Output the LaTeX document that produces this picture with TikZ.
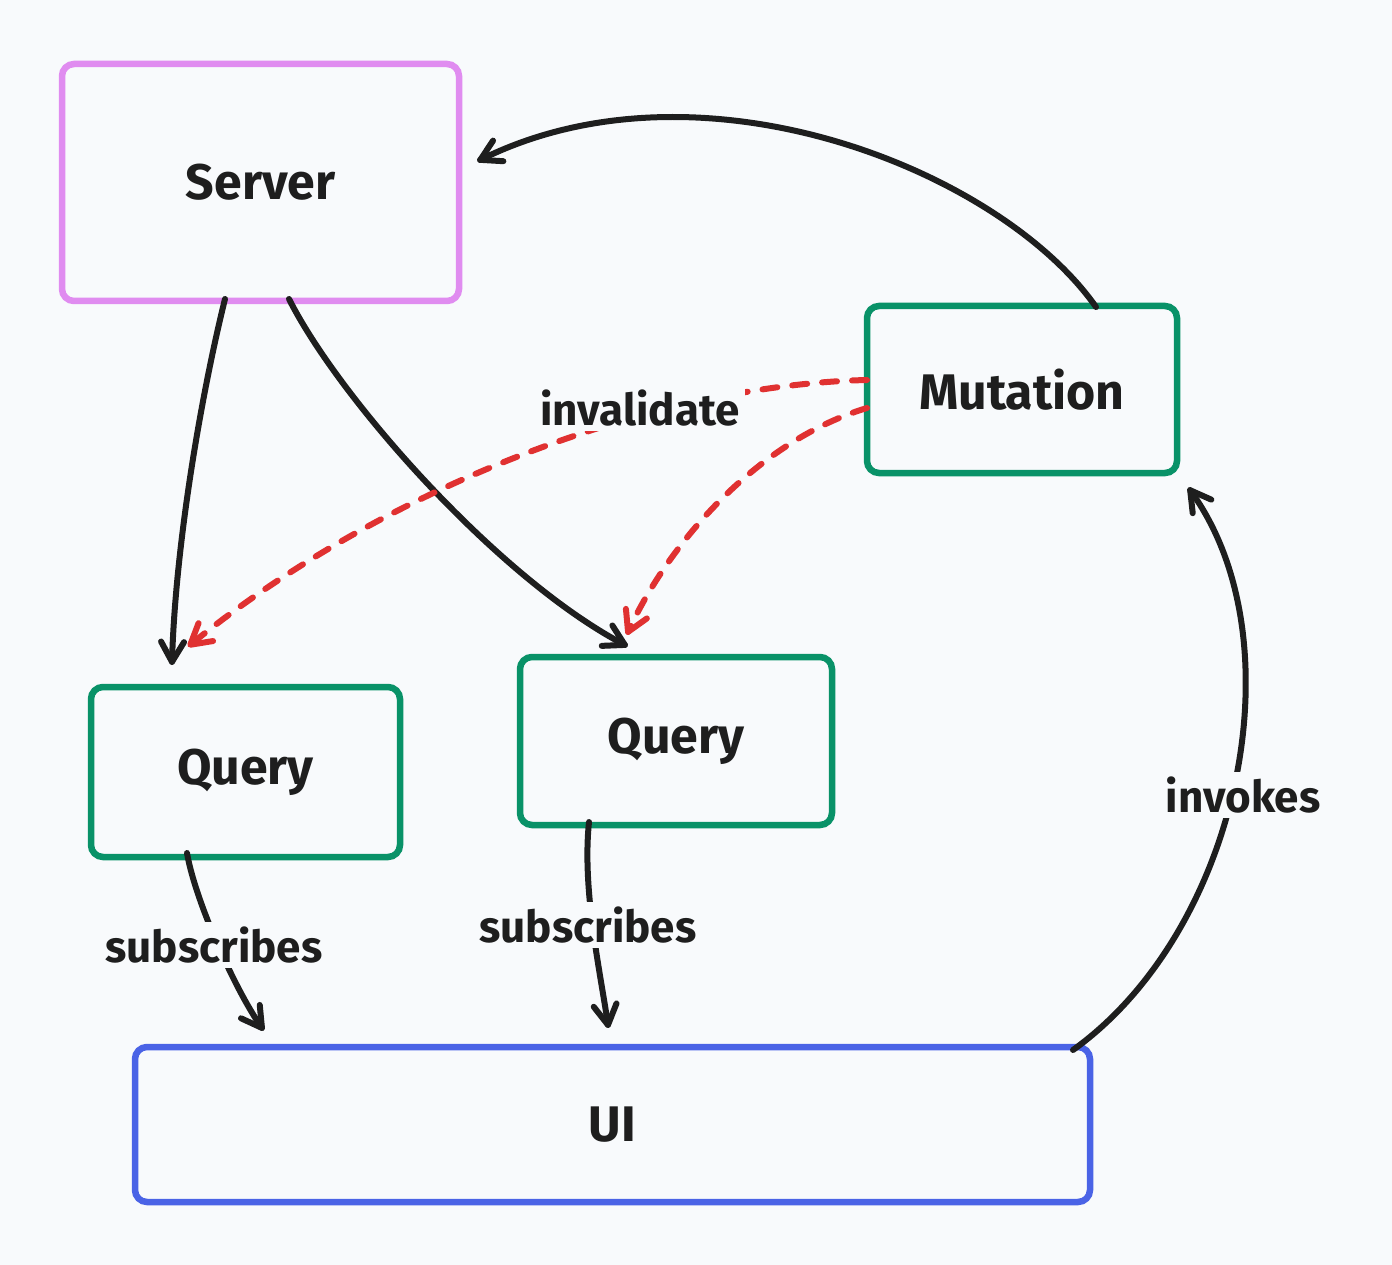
\documentclass[tikz,border=0pt]{standalone}
\usepackage{fontspec}
\setmainfont{Fira Sans}
\usetikzlibrary{decorations.markings}
\definecolor{bg}{HTML}{F8FAFC}
\definecolor{pinkc}{HTML}{E08CF0}
\definecolor{greenc}{HTML}{099268}
\definecolor{bluec}{HTML}{4A63E6}
\definecolor{redc}{HTML}{E03131}
\definecolor{inkc}{HTML}{1E1E1E}
\tikzset{
  box/.style={draw, line width=6.5pt, rounded corners=12pt, fill=bg, inner sep=0pt},
  lbl/.style={font=\fontsize{50}{58}\selectfont\bfseries, text=inkc},
  chev/.style={postaction={decorate, decoration={markings,
    mark=at position 0.9995 with {\draw[#1, line width=6pt, solid, line cap=round, line join=round]
      (-20pt,11.5pt) -- (0pt,0pt) -- (-20pt,-11.5pt);}}}},
  conn/.style={draw=inkc, line width=6pt, line cap=round, chev=inkc},
  dconn/.style={draw=redc, line width=6pt, line cap=round, dash pattern=on 15pt off 15pt, chev=redc},
  elbl/.style={font=\fontsize{44}{52}\selectfont\bfseries, text=inkc, fill=bg, inner sep=5pt}
}
\begin{document}
\begin{tikzpicture}[x=1pt,y=-1pt]
\fill[bg] (0,0) rectangle (1392,1265);
\useasboundingbox (0,0) rectangle (1392,1265);
% boxes
\node[box, draw=pinkc, minimum width=397pt, minimum height=237pt] (server) at (260.5,182.5) {};
\node[box, draw=greenc, minimum width=310pt, minimum height=167pt] (mut) at (1022,389.5) {};
\node[box, draw=greenc, minimum width=309pt, minimum height=170pt] (q1) at (245.5,772) {};
\node[box, draw=greenc, minimum width=312pt, minimum height=168pt] (q2) at (676,741) {};
\node[box, draw=bluec, minimum width=955pt, minimum height=155pt] (ui) at (612.5,1124.5) {};
% box texts
\node[lbl] (tserver) at (server.center) {Server};
\node[lbl] (tmut) at (mut.center) {Mutation};
\node[lbl] (tq1) at (q1.center) {Query};
\node[lbl] (tq2) at (q2.center) {Query};
\node[lbl] (tui) at (ui.center) {UI};
% anchor coordinates
\coordinate (mTop) at (1096,307);
\coordinate (sR) at (480,160);
\coordinate (sB1) at (225,299);
\coordinate (q1T) at (172,662);
\coordinate (sB2) at (289,299);
\coordinate (q2T) at (625,645);
\coordinate (mL1) at (867,380);
\coordinate (q1Tr) at (190,645);
\coordinate (mL2) at (867,408);
\coordinate (q2Tr) at (628,632);
\coordinate (q1B) at (187,853);
\coordinate (uiT1) at (262,1028);
\coordinate (q2B) at (589,822);
\coordinate (uiT2) at (608,1025);
\coordinate (uiR) at (1073,1050);
\coordinate (mB) at (1190,490);
% connectors
\draw[conn] (mTop) .. controls (1000,170) and (700,50) .. (sR);
\draw[conn] (sB1) .. controls (200,400) and (175,550) .. (q1T);
\draw[conn] (sB2) .. controls (340,400) and (500,580) .. (q2T);
\draw[dconn] (mL1) .. controls (650,385) and (380,490) .. (q1Tr);
\draw[dconn] (mL2) .. controls (760,440) and (670,540) .. (q2Tr);
\draw[conn] (q1B) .. controls (195,900) and (235,990) .. (uiT1);
\draw[conn] (q2B) .. controls (582,890) and (600,970) .. (uiT2);
\draw[conn] (uiR) .. controls (1240,930) and (1300,640) .. (mB);
% edge labels
\node[elbl] (linv) at (640,408) {invalidate};
\node[elbl] (ls1) at (214,945) {subscribes};
\node[elbl] (ls2) at (588,925) {subscribes};
\node[elbl] (linvk) at (1243,795) {invokes};
\end{tikzpicture}
\end{document}
